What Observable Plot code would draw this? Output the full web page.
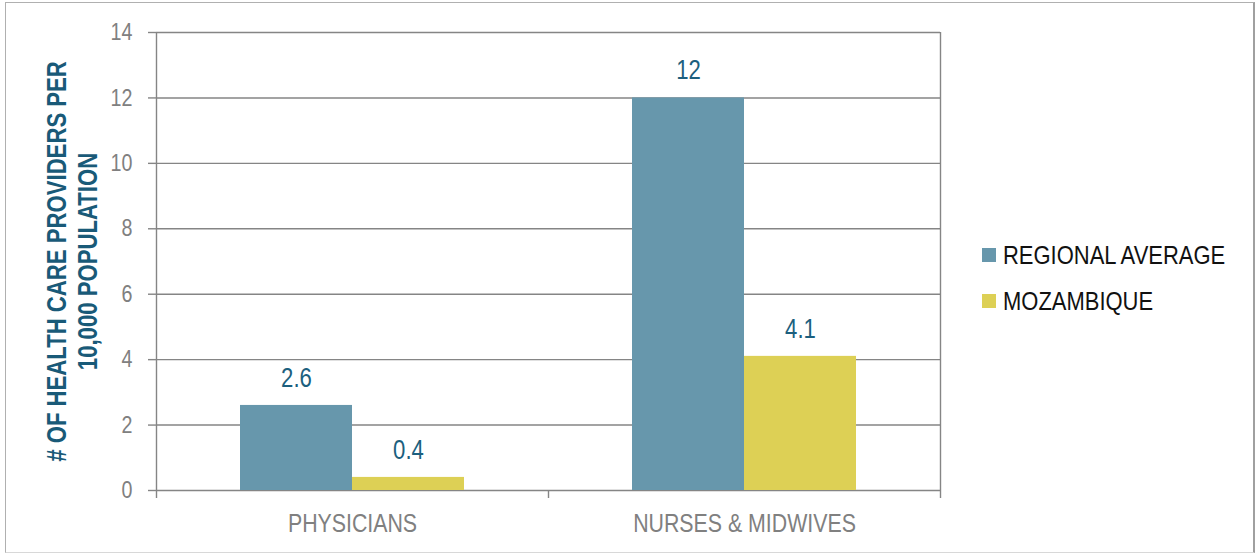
<!DOCTYPE html>
<html>
<head>
<meta charset="utf-8">
<script src="https://cdn.jsdelivr.net/npm/d3@7"></script>
<script src="https://cdn.jsdelivr.net/npm/@observablehq/plot@0.6"></script>
<style>
  html, body { margin: 0; padding: 0; background: #fff; }
  body { width: 1256px; height: 554px; position: relative; overflow: hidden;
         font-family: "Liberation Sans", Arial, sans-serif; }
  #frame { position: absolute; left: 5px; top: 2px; width: 1247px; height: 549px;
           border: 1px solid #b0b0b0; border-right: 2px solid #a0a0a0; border-bottom: 1px solid #d8d8d8; }
  #chart { position: absolute; left: 0; top: 0; }
  #legend { position: absolute; left: 982px; top: 240px; width: 270px; }
  .item { display: flex; align-items: center; height: 30px; margin-bottom: 16px;
          font-size: 26px; color: #111; white-space: nowrap; }
  .swatch { width: 14px; height: 14px; margin-right: 7px; flex: none; }
  .label { display: inline-block; transform: scaleX(0.845); transform-origin: left center; }
</style>
</head>
<body>
<div id="frame"></div>
<div id="chart"></div>
<div id="legend"></div>
<script>
const categories = ["PHYSICIANS", "NURSES & MIDWIVES"];
const series = ["REGIONAL AVERAGE", "MOZAMBIQUE"];
const regionalAverage = [2.6, 12];
const mozambique = [0.4, 4.1];
const seriesColors = ["#6797ac", "#ddd055"];
const yTicks = [0, 2, 4, 6, 8, 10, 12, 14];
const yTitle = "# OF HEALTH CARE PROVIDERS PER\n10,000 POPULATION";

const values = [regionalAverage, mozambique];
// layout within each category slot (slot width = 1 on a linear x scale)
const barW = 2 / 7, groupOff = 1.5 / 7;
const rows = [];
categories.forEach((c, i) => {
  series.forEach((s, j) => {
    const x1 = i + groupOff + j * barW;
    rows.push({category: c, series: s, value: values[j][i], x1, x2: x1 + barW, xm: x1 + barW / 2});
  });
});

const font = '"Liberation Sans", Arial, sans-serif';
const gray = "#858585";

const chart = Plot.plot({
  width: 1256,
  height: 554,
  marginLeft: 156,
  marginRight: 316,
  marginTop: 32,
  marginBottom: 64,
  style: {fontFamily: font, background: "transparent", overflow: "visible"},
  x: {domain: [0, categories.length], axis: null},
  y: {domain: [0, 14], axis: null},
  color: {domain: series, range: seriesColors},
  marks: [
    Plot.gridY(yTicks, {stroke: gray, strokeOpacity: 1, strokeWidth: 1.4}),
    Plot.ruleX([0, categories.length], {stroke: gray, strokeWidth: 1.4}),
    Plot.axisY({ticks: yTicks, tickSize: 8, tickPadding: 16, fontSize: 24, color: "#808080",
                stroke: gray, strokeWidth: 1.4, label: null}),
    Plot.axisX({ticks: d3.range(categories.length + 1), tickSize: 8, tickFormat: () => "",
                stroke: gray, strokeWidth: 1.4, label: null}),
    Plot.axisX({ticks: categories.map((c, i) => i + 0.5), tickSize: 0, tickPadding: 23,
                tickFormat: (d) => categories[Math.floor(d)], fontSize: 26, color: "#808080", label: null}),
    Plot.rectY(rows, {x1: "x1", x2: "x2", y1: 0, y2: "value", fill: "series"}),
    Plot.text(rows, {x: "xm", y: "value", text: (d) => String(d.value), dy: -18.5,
                     lineAnchor: "bottom", fontSize: 27, fill: "#1c5f7e"}),
    Plot.text([yTitle], {frameAnchor: "left", dx: -85, rotate: -90, text: (d) => d,
                         textAnchor: "middle", fontSize: 27, fontWeight: "bold",
                         fill: "#195a78", lineHeight: 1.13})
  ]
});
document.getElementById("chart").appendChild(chart);

// condense glyphs to imitate a narrow typeface
chart.querySelectorAll("text").forEach((t) => {
  const spans = t.querySelectorAll("tspan");
  const els = spans.length ? Array.from(spans) : [t];
  els.forEach((e) => {
    const L = e.getComputedTextLength();
    if (L > 0) {
      e.setAttribute("textLength", (L * 0.82).toFixed(2));
      e.setAttribute("lengthAdjust", "spacingAndGlyphs");
    }
  });
});

const legend = document.getElementById("legend");
series.forEach((s, j) => {
  const item = document.createElement("div");
  item.className = "item";
  const sw = document.createElement("span");
  sw.className = "swatch";
  sw.style.background = seriesColors[j];
  const t = document.createElement("span");
  t.className = "label";
  t.textContent = s;
  item.appendChild(sw);
  item.appendChild(t);
  legend.appendChild(item);
});
</script>
</body>
</html>
